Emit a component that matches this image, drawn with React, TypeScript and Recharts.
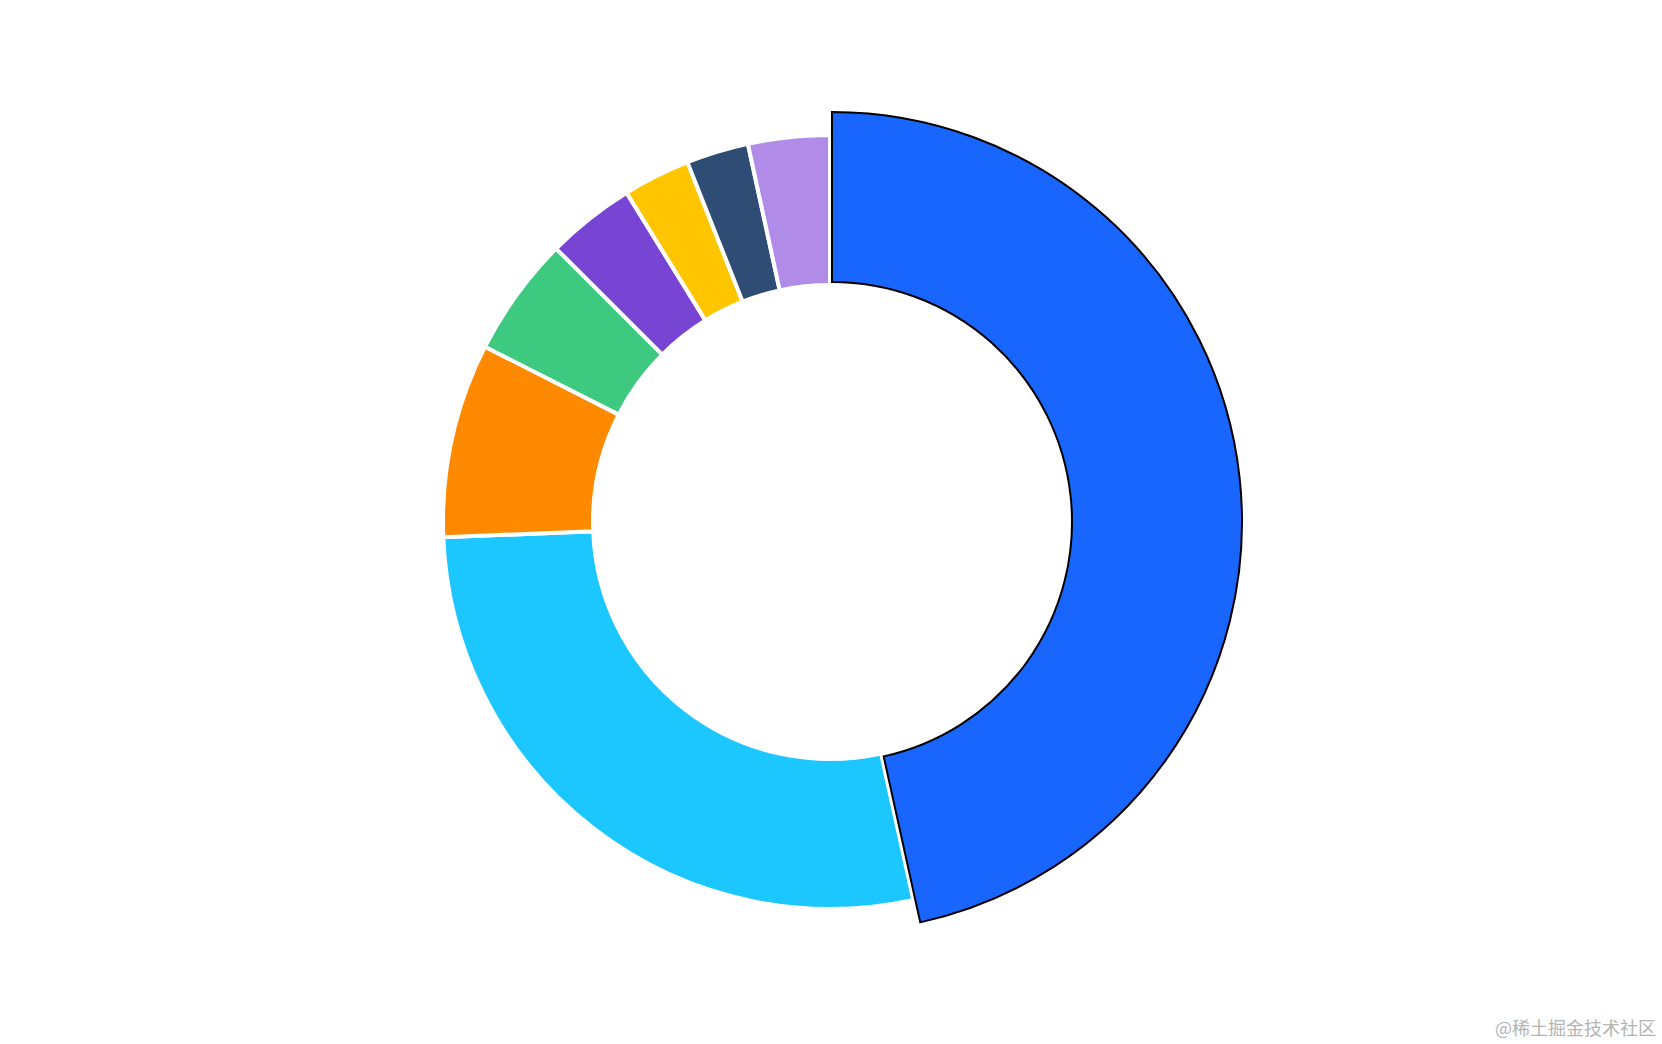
import { PieChart, Pie, Cell } from "recharts"

const categories = ["A", "B", "C", "D", "E", "F", "G", "H"]
const values = [46.5, 27.8, 8.1, 5.0, 3.7, 2.8, 2.6, 3.4]
const colors = [
  "#1966FF",
  "#1CC7FF",
  "#FF8A00",
  "#3DC97F",
  "#7744D4",
  "#FFC600",
  "#2E4C74",
  "#B18BE8",
]
const activeIndex = 0

const data = categories.map((name, i) => ({ name, value: values[i] }))

export default function App() {
  return (
    <div
      style={{
        position: "absolute",
        top: 0,
        left: 0,
        width: 1662,
        height: 1044,
        background: "#fff",
      }}
    >
      <PieChart width={1662} height={1044} margin={{ top: 0, right: 0, bottom: 0, left: 0 }}>
        {/* base ring */}
        <Pie
          data={data}
          dataKey="value"
          cx={830}
          cy={522}
          innerRadius={237}
          outerRadius={387}
          startAngle={90}
          endAngle={-270}
          stroke="#fff"
          strokeWidth={4}
          isAnimationActive={false}
        >
          {data.map((entry, i) => (
            <Cell
              key={entry.name}
              fill={i === activeIndex ? "transparent" : colors[i]}
              stroke={i === activeIndex ? "none" : "#fff"}
            />
          ))}
        </Pie>
        {/* highlighted slice, enlarged */}
        <Pie
          data={data}
          dataKey="value"
          cx={832}
          cy={522}
          innerRadius={240}
          outerRadius={410}
          startAngle={90}
          endAngle={-270}
          isAnimationActive={false}
        >
          {data.map((entry, i) => (
            <Cell
              key={entry.name}
              fill={i === activeIndex ? colors[i] : "transparent"}
              stroke={i === activeIndex ? "#000" : "none"}
              strokeWidth={2}
            />
          ))}
        </Pie>
      </PieChart>
      <div
        style={{
          position: "absolute",
          right: 6,
          top: 1016,
          fontFamily: "'Noto Sans CJK SC', sans-serif",
          fontSize: 18,
          lineHeight: "22px",
          color: "#b4b4b4",
        }}
      >
        @稀土掘金技术社区
      </div>
    </div>
  )
}
